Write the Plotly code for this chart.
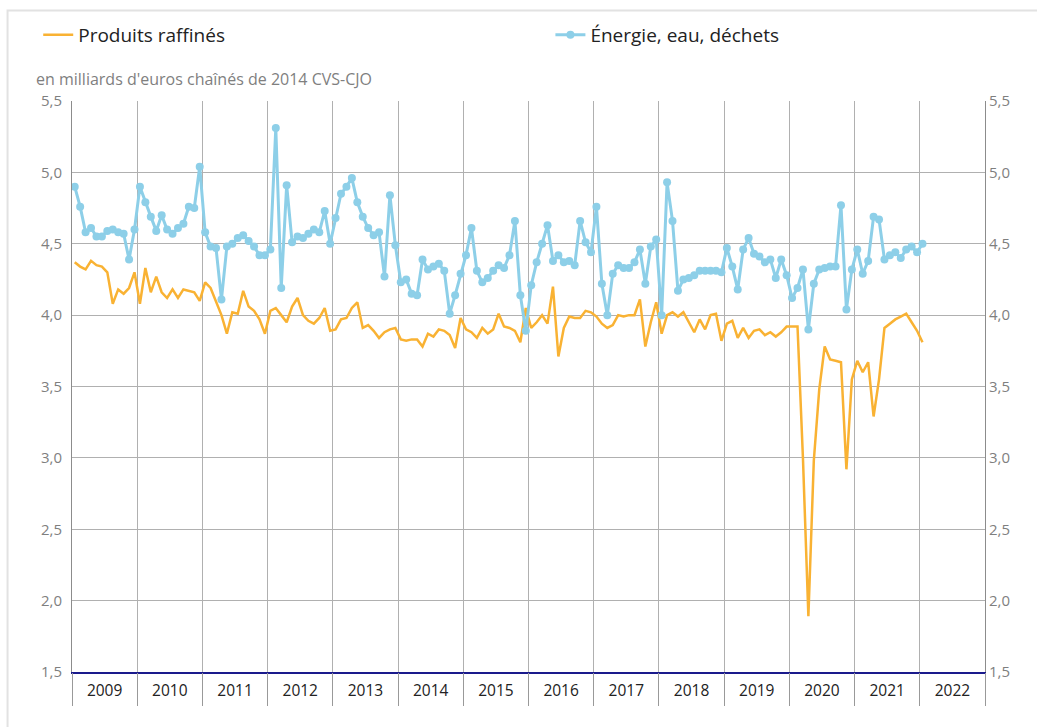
import numpy as np
import plotly.graph_objects as go

# ---------------- data ----------------
years = [2009, 2010, 2011, 2012, 2013, 2014, 2015, 2016, 2017, 2018, 2019, 2020, 2021, 2022]

produits_raffines = [
    4.37, 4.34, 4.32, 4.38, 4.35, 4.34, 4.30, 4.08, 4.18, 4.15, 4.19, 4.30,  # 2009
    4.08, 4.33, 4.16, 4.27, 4.16, 4.12, 4.18, 4.12, 4.18, 4.17, 4.16, 4.10,  # 2010
    4.23, 4.19, 4.09, 4.00, 3.87, 4.02, 4.01, 4.17, 4.06, 4.03, 3.97, 3.87,  # 2011
    4.03, 4.05, 4.00, 3.95, 4.06, 4.12, 4.00, 3.96, 3.94, 3.98, 4.05, 3.89,  # 2012
    3.90, 3.97, 3.98, 4.05, 4.09, 3.91, 3.93, 3.89, 3.84, 3.88, 3.90, 3.91,  # 2013
    3.83, 3.82, 3.83, 3.83, 3.78, 3.87, 3.85, 3.90, 3.89, 3.86, 3.77, 3.98,  # 2014
    3.90, 3.88, 3.84, 3.91, 3.87, 3.90, 4.01, 3.92, 3.91, 3.89, 3.81, 4.05,  # 2015
    3.91, 3.95, 4.00, 3.94, 4.20, 3.71, 3.91, 3.99, 3.98, 3.98, 4.03, 4.02,  # 2016
    3.99, 3.94, 3.91, 3.93, 4.00, 3.99, 4.00, 4.00, 4.11, 3.78, 3.95, 4.09,  # 2017
    3.87, 4.00, 4.02, 3.99, 4.02, 3.95, 3.88, 3.97, 3.90, 4.00, 4.01, 3.82,  # 2018
    3.94, 3.96, 3.84, 3.91, 3.84, 3.89, 3.90, 3.86, 3.88, 3.85, 3.88, 3.92,  # 2019
    3.92, 3.92, 3.00, 1.89, 2.98, 3.48, 3.78, 3.69, 3.68, 3.67, 2.92, 3.55,  # 2020
    3.68, 3.60, 3.67, 3.29, 3.55, 3.91, 3.94, 3.97, 3.99, 4.01, 3.95, 3.89,  # 2021
    3.81,                                                                    # 2022
]

energie_eau_dechets = [
    4.90, 4.76, 4.58, 4.61, 4.55, 4.55, 4.59, 4.60, 4.58, 4.57, 4.39, 4.60,  # 2009
    4.90, 4.79, 4.69, 4.59, 4.70, 4.60, 4.57, 4.61, 4.64, 4.76, 4.75, 5.04,  # 2010
    4.58, 4.48, 4.47, 4.11, 4.48, 4.50, 4.54, 4.56, 4.52, 4.48, 4.42, 4.42,  # 2011
    4.46, 5.31, 4.19, 4.91, 4.51, 4.55, 4.54, 4.57, 4.60, 4.58, 4.73, 4.50,  # 2012
    4.68, 4.85, 4.90, 4.96, 4.79, 4.69, 4.61, 4.56, 4.58, 4.27, 4.84, 4.49,  # 2013
    4.23, 4.25, 4.15, 4.14, 4.39, 4.32, 4.34, 4.36, 4.31, 4.01, 4.14, 4.29,  # 2014
    4.42, 4.61, 4.31, 4.23, 4.26, 4.31, 4.35, 4.33, 4.42, 4.66, 4.14, 3.89,  # 2015
    4.21, 4.37, 4.50, 4.63, 4.38, 4.42, 4.37, 4.38, 4.35, 4.66, 4.51, 4.44,  # 2016
    4.76, 4.22, 4.00, 4.29, 4.35, 4.33, 4.33, 4.37, 4.46, 4.22, 4.48, 4.53,  # 2017
    4.00, 4.93, 4.66, 4.17, 4.25, 4.26, 4.28, 4.31, 4.31, 4.31, 4.31, 4.30,  # 2018
    4.47, 4.34, 4.18, 4.46, 4.54, 4.43, 4.41, 4.37, 4.39, 4.26, 4.39, 4.28,  # 2019
    4.12, 4.19, 4.32, 3.90, 4.22, 4.32, 4.33, 4.34, 4.34, 4.77, 4.04, 4.32,  # 2020
    4.46, 4.29, 4.38, 4.69, 4.67, 4.39, 4.42, 4.44, 4.40, 4.46, 4.48, 4.44,  # 2021
    4.50,                                                                    # 2022
]

y_ticks = [1.5, 2.0, 2.5, 3.0, 3.5, 4.0, 4.5, 5.0, 5.5]
y_title = "en milliards d'euros chaînés de 2014 CVS-CJO"

# ---------------- styles ----------------
FONT = "Open Sans"
ORANGE = "#f9b233"
BLUE = "#8dcfe8"
GRID = "#b0b0b0"
TICKGRAY = "#7f7f7f"

months_per_year = 12
x_pos = np.arange(len(produits_raffines)) + 0.5          # month centres
x_max = len(years) * months_per_year
year_centres = [i * months_per_year + months_per_year / 2 for i in range(len(years))]
year_bounds = [i * months_per_year for i in range(len(years) + 1)]

fig = go.Figure()

fig.add_trace(go.Scatter(
    x=x_pos, y=produits_raffines, mode="lines", name="Produits raffinés",
    line=dict(color=ORANGE, width=2.5), legend="legend", hoverinfo="skip",
))
fig.add_trace(go.Scatter(
    x=x_pos, y=energie_eau_dechets, mode="lines+markers", name="Énergie, eau, déchets",
    line=dict(color=BLUE, width=3), marker=dict(size=8, color=BLUE),
    legend="legend2", hoverinfo="skip",
))
# invisible trace to activate the overlay axes (year separators, right labels)
fig.add_trace(go.Scatter(
    x=[None], y=[None], xaxis="x2", yaxis="y2", showlegend=False, hoverinfo="skip",
))

fig.update_layout(
    width=1037, height=727,
    margin=dict(l=72, r=52, t=101, b=55, autoexpand=False),
    paper_bgcolor="white", plot_bgcolor="white",
    separators=", ",
    font=dict(family=FONT, color="#222222"),
    xaxis=dict(
        range=[0, x_max], tickmode="array", tickvals=year_centres,
        ticktext=[str(y) for y in years], ticks="", showgrid=False, zeroline=False,
        showline=True, linecolor="#1a1a8c", linewidth=2,
        tickfont=dict(size=15.5, color="#222222", family=FONT), automargin=False,
        ticklabelstandoff=3,
    ),
    xaxis2=dict(
        range=[0, x_max], overlaying="x", anchor="y", side="bottom",
        tickmode="array", tickvals=year_bounds, showticklabels=False,
        ticks="outside", ticklen=33, tickcolor="#999999", tickwidth=1,
        showgrid=True, gridcolor=GRID, gridwidth=1, zeroline=False, showline=False,
        automargin=False,
    ),
    yaxis=dict(
        range=[1.5, 5.5], tickmode="array", tickvals=y_ticks, tickformat=".1f",
        showgrid=True, gridcolor=GRID, gridwidth=1, zeroline=False,
        showline=True, linecolor="#8c8c8c", linewidth=1, ticks="",
        tickfont=dict(size=15, color=TICKGRAY, family=FONT), automargin=False,
        ticklabelstandoff=6,
    ),
    yaxis2=dict(
        range=[1.5, 5.5], overlaying="y", anchor="x", side="right",
        tickmode="array", tickvals=y_ticks, tickformat=".1f",
        showgrid=False, zeroline=False, showline=True, linecolor="#8c8c8c",
        linewidth=1, ticks="",
        tickfont=dict(size=15, color=TICKGRAY, family=FONT), automargin=False,
    ),
    legend=dict(
        x=-0.037, y=1.1156, xanchor="left", yanchor="middle", orientation="h",
        font=dict(size=19, color="#222222", family=FONT), bgcolor="rgba(0,0,0,0)",
        itemwidth=30,
    ),
    legend2=dict(
        x=0.524, y=1.1156, xanchor="left", yanchor="middle", orientation="h",
        font=dict(size=19, color="#222222", family=FONT), bgcolor="rgba(0,0,0,0)",
        itemwidth=30,
    ),
    annotations=[dict(
        text=y_title, xref="paper", yref="paper", x=-0.0416, y=1.038,
        xanchor="left", yanchor="middle", showarrow=False,
        font=dict(size=16, color=TICKGRAY, family=FONT),
    )],
    shapes=[dict(
        type="rect", xref="paper", yref="paper",
        x0=-0.0706, x1=1.2, y0=-0.3, y1=1.1585,
        line=dict(color="#e2e2e2", width=2), fillcolor="rgba(0,0,0,0)", layer="below",
    )],
)

fig.write_html(
    "out.html",
    config={"displayModeBar": False},
    post_script="document.body.style.margin='0px';",
)
